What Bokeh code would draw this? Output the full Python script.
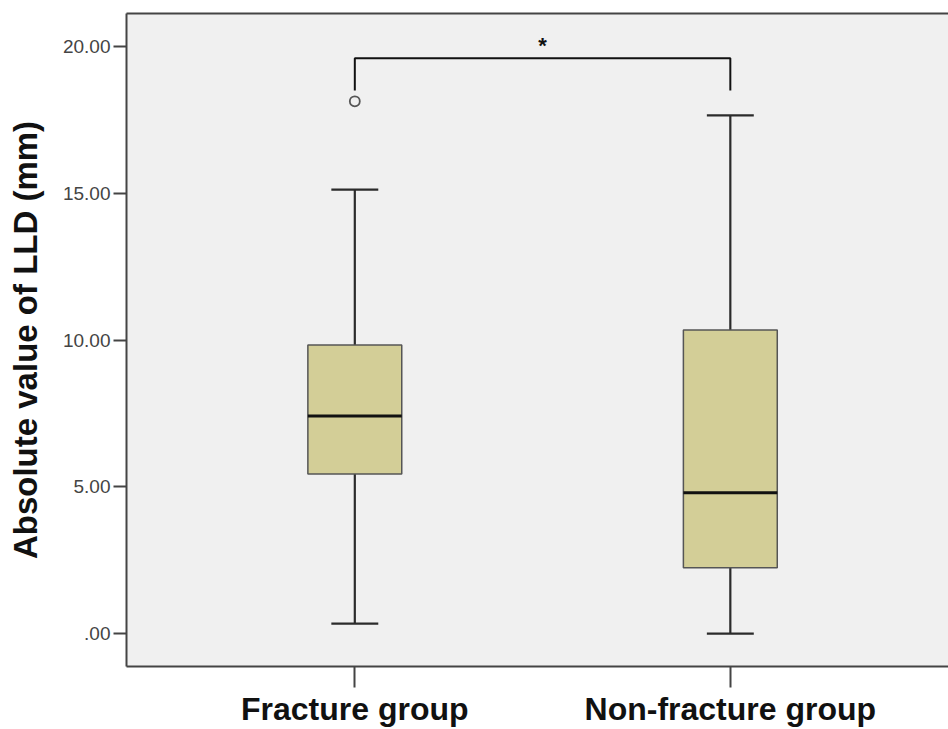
from bokeh.plotting import figure
from bokeh.models import FixedTicker, LinearAxis, Range1d, ColumnDataSource
from bokeh.core.properties import value
from bokeh.embed import file_html
from bokeh.resources import INLINE

# ---- data ----
groups = ["Fracture group", "Non-fracture group"]
xpos = [1, 2]
lower_whisker = [0.34, 0.0]
q1 = [5.44, 2.24]
median = [7.41, 4.80]
q3 = [9.83, 10.34]
upper_whisker = [15.12, 17.65]
outlier_x = [1]
outlier_y = [18.13]
y_ticks = [0, 5, 10, 15, 20]
y_tick_labels = [".00", "5.00", "10.00", "15.00", "20.00"]
sig_level = 19.6
sig_drop = 1.1
sig_label = "*"

BG = "#f0f0f0"
BOX = "#d3ce97"
LINE = "#2b2b2b"
AXIS = "#444444"
FONT = "Liberation Sans"

p = figure(width=948, height=729, output_backend="svg", toolbar_location=None,
           x_range=Range1d(0.392, 2.581), y_range=Range1d(-1.12, 21.12),
           min_border_left=126, min_border_right=0, min_border_top=13, min_border_bottom=62)
p.background_fill_color = BG
p.border_fill_color = "white"
p.outline_line_color = None
p.grid.visible = False

box_w = 0.25
cap_w = 0.125
src = ColumnDataSource(dict(x=xpos, lo=lower_whisker, q1=q1, med=median, q3=q3, hi=upper_whisker,
                            l=[v - box_w / 2 for v in xpos], r=[v + box_w / 2 for v in xpos],
                            cl=[v - cap_w / 2 for v in xpos], cr=[v + cap_w / 2 for v in xpos]))

# whisker stems
p.segment(x0="x", y0="q3", x1="x", y1="hi", source=src, line_color=LINE, line_width=2.2)
p.segment(x0="x", y0="q1", x1="x", y1="lo", source=src, line_color=LINE, line_width=2.2)
# caps
p.segment(x0="cl", y0="hi", x1="cr", y1="hi", source=src, line_color=LINE, line_width=2.2)
p.segment(x0="cl", y0="lo", x1="cr", y1="lo", source=src, line_color=LINE, line_width=2.2)
# boxes
p.vbar(x="x", width=box_w, bottom="q1", top="q3", source=src,
       fill_color=BOX, line_color="#555555", line_width=1.5)
# medians
p.segment(x0="l", y0="med", x1="r", y1="med", source=src, line_color="#111111", line_width=3)
# outliers
p.scatter(outlier_x, outlier_y, marker="circle", size=10, fill_color=BG,
          line_color="#555555", line_width=1.8)

# significance bracket
p.line([xpos[0], xpos[0], xpos[1], xpos[1]],
       [sig_level - sig_drop, sig_level, sig_level, sig_level - sig_drop],
       line_color="#111111", line_width=2)
p.text(x=[(xpos[0] + xpos[1]) / 2], y=[sig_level + 0.02], text=[sig_label],
       text_font=value(FONT), text_font_size="22px", text_font_style="bold",
       text_align="center", text_baseline="bottom", text_color="#111111")

# y axis
ya = p.yaxis[0]
ya.ticker = FixedTicker(ticks=y_ticks)
ya.major_label_overrides = {t: s for t, s in zip(y_ticks, y_tick_labels)}
ya.minor_tick_line_color = None
ya.major_tick_in = 0
ya.major_tick_out = 13
ya.major_tick_line_width = 2
ya.major_tick_line_color = AXIS
ya.axis_line_width = 2
ya.axis_line_color = AXIS
ya.major_label_text_font = FONT
ya.major_label_text_font_size = "19px"
ya.major_label_text_color = "#444444"
ya.major_label_standoff = 3
ya.axis_label = "Absolute value of LLD (mm)"
ya.axis_label_text_font = FONT
ya.axis_label_text_font_size = "33px"
ya.axis_label_text_font_style = "bold"
ya.axis_label_text_color = "#111111"
ya.axis_label_standoff = 16

# x axis
xa = p.xaxis[0]
xa.ticker = FixedTicker(ticks=xpos)
xa.major_label_overrides = {x: g for x, g in zip(xpos, groups)}
xa.minor_tick_line_color = None
xa.major_tick_in = 0
xa.major_tick_out = 21
xa.major_tick_line_width = 2
xa.major_tick_line_color = AXIS
xa.axis_line_width = 2
xa.axis_line_color = AXIS
xa.major_label_text_font = FONT
xa.major_label_text_font_size = "32px"
xa.major_label_text_font_style = "bold"
xa.major_label_text_color = "#111111"
xa.major_label_standoff = 3

# top border line
top = LinearAxis(ticker=FixedTicker(ticks=[]), axis_line_width=2, axis_line_color=AXIS,
                 major_tick_line_color=None, minor_tick_line_color=None,
                 major_label_text_font_size="0px")
p.add_layout(top, "above")

open("out.html", "w").write(file_html(p, INLINE))
